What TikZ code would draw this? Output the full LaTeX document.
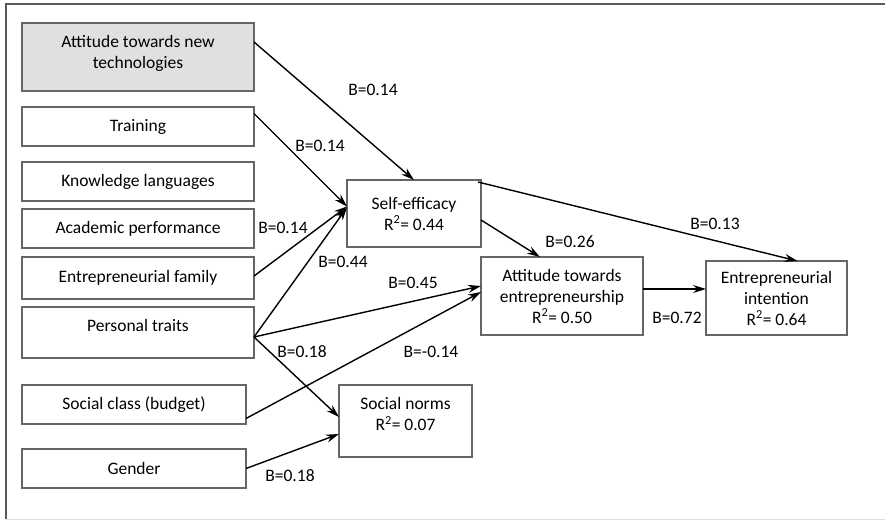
\documentclass[tikz,border=0pt]{standalone}
\usepackage{fontspec}
\setmainfont{Carlito}
\usetikzlibrary{positioning,arrows.meta}

\begin{document}
\begin{tikzpicture}[x=1pt,y=-1pt,
    box/.style={draw=black!60,line width=1.1pt,align=center,inner sep=0pt,outer sep=0pt,font=\fontsize{17.5}{21}\selectfont},
    arr/.style={-{Stealth[length=13pt,width=8pt]},line width=1.4pt},
    lbl/.style={font=\fontsize{17.5}{21}\selectfont,inner sep=0pt}
  ]
    \useasboundingbox (0,0) rectangle (885,521);
    \draw[black!65,line width=2pt] (885,4) -- (6,4) -- (6,519);
    \draw[black!12,line width=1pt] (6,519) -- (885,519);
    % predictors
    \node[box,fill=black!12,minimum width=232pt,minimum height=68pt,text height=28pt,text depth=4pt] (tech) at (138,57) {Attitude towards new\\technologies};
    \node[box,minimum width=232pt,minimum height=39pt,below=16pt of tech] (train) {Training};
    \node[box,minimum width=232pt,minimum height=39pt,below=16pt of train] (lang) {Knowledge languages};
    \node[box,minimum width=232pt,minimum height=39pt,below=8pt of lang] (acad) {Academic performance};
    \node[box,minimum width=232pt,minimum height=42pt,below=9pt of acad] (fam) {Entrepreneurial family};
    \node[box,minimum width=232pt,minimum height=51pt,text height=12pt,text depth=14pt,below=8pt of fam] (pers) {Personal traits};
    \node[box,minimum width=224pt,minimum height=39pt,below right=27pt and 0pt of pers.south west] (budget) {Social class (budget)};
    \node[box,minimum width=224pt,minimum height=39pt,below=25pt of budget] (gender) {Gender};
    % outcomes
    \node[box,minimum width=134pt,minimum height=67pt] (selfeff) at (414,213.5) {Self-efficacy\\R\textsuperscript{2}= 0.44};
    \node[box,minimum width=162pt,minimum height=78pt] (attent) at (562,296) {Attitude towards\\entrepreneurship\\R\textsuperscript{2}= 0.50};
    \node[box,minimum width=141pt,minimum height=74pt] (intent) at (776.5,298) {Entrepreneurial\\intention\\R\textsuperscript{2}= 0.64};
    \node[box,minimum width=133pt,minimum height=72pt,text height=23pt,text depth=4pt] (norms) at (405.5,421) {Social norms\\R\textsuperscript{2}= 0.07};
    % paths
    \draw[arr] ([yshift=15pt]tech.east) -- (selfeff.north);
    \draw[arr] ([yshift=13pt]train.east) -- ([yshift=7pt]selfeff.west);
    \draw[arr] ([yshift=2pt]fam.east) -- ([yshift=7pt]selfeff.west);
    \draw[arr] ([yshift=-4.5pt]pers.east) -- ([yshift=6pt]selfeff.west);
    \draw[arr] ([yshift=-4.5pt]pers.east) -- ([yshift=10pt]attent.west);
    \draw[arr] ([yshift=-4.5pt]pers.east) -- ([yshift=4pt]norms.west);
    \draw[arr] ([yshift=-14pt]budget.east) -- ([yshift=4pt]attent.west);
    \draw[arr] (gender.east) -- ([yshift=-13pt]norms.west);
    \draw[arr] ([yshift=-6.5pt]selfeff.east) -- ([xshift=-22pt]attent.north);
    \draw[arr] ([xshift=-3pt,yshift=-2pt]selfeff.north east) -- ([xshift=21pt]intent.north);
    \draw[arr] ([yshift=7pt]attent.east) -- ([yshift=7pt]attent.east -| intent.west);
    % coefficients
    \node[lbl] (bTech) at (373,90) {B=0.14};
    \node[lbl] (bTrain) at (320,146) {B=0.14};
    \node[lbl] (bFam) at (283,228) {B=0.14};
    \node[lbl] (bPersSE) at (343,262) {B=0.44};
    \node[lbl] (bPersAE) at (413,283) {B=0.45};
    \node[lbl] (bPersSN) at (302,352) {B=0.18};
    \node[lbl] (bBudget) at (431,352) {B=-0.14};
    \node[lbl] (bGender) at (290,476) {B=0.18};
    \node[lbl] (bSEAE) at (570,242) {B=0.26};
    \node[lbl] (bSEEI) at (715,224) {B=0.13};
    \node[lbl] (bAEEI) at (677,318) {B=0.72};
  \end{tikzpicture}
\end{document}
